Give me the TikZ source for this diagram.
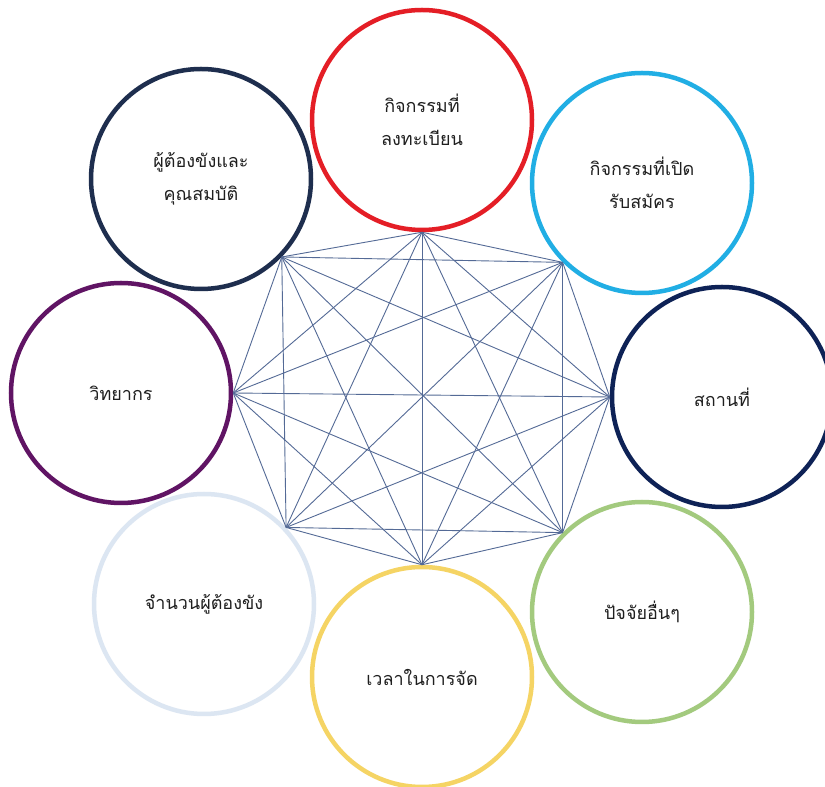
\documentclass[tikz,border=0pt]{standalone}
\usepackage{fontspec}
\newfontfamily\thaifont[Script=Thai]{Loma}
\definecolor{cRed}{RGB}{228,30,38}
\definecolor{cNavyA}{RGB}{30,46,78}
\definecolor{cSky}{RGB}{33,174,228}
\definecolor{cPurple}{RGB}{96,20,100}
\definecolor{cNavyB}{RGB}{14,34,86}
\definecolor{cPale}{RGB}{220,230,242}
\definecolor{cYellow}{RGB}{245,212,100}
\definecolor{cGreen}{RGB}{163,202,126}
\definecolor{linkc}{RGB}{84,106,150}
\begin{document}
\begin{tikzpicture}[x=1pt,y=1pt,
  ring/.style={circle,draw,line width=4.5pt,minimum size=220pt,inner sep=0pt,
    align=center,font=\thaifont\fontsize{18}{33}\selectfont,text=black!88},
  link/.style={draw=linkc,line width=0.9pt}]
\useasboundingbox (0,0) rectangle (825,787);
\fill[white] (0,0) rectangle (825,787);
\node[ring,draw=cRed]    (top)    at (422,667) {กิจกรรมที่\\ลงทะเบียน};
\node[ring,draw=cSky]    (tr)     at (642,604) {กิจกรรมที่เปิด\\รับสมัคร};
\node[ring,draw=cNavyB]  (right)  at (722,390) {สถานที่};
\node[ring,draw=cGreen]  (br)     at (642,175) {ปัจจัยอื่นๆ};
\node[ring,draw=cYellow] (bottom) at (422,110) {เวลาในการจัด};
\node[ring,draw=cPale]   (bl)     at (204,183) {จำนวนผู้ต้องขัง};
\node[ring,draw=cPurple] (left)   at (121,394) {วิทยากร};
\node[ring,draw=cNavyA]  (tl)     at (201,608) {ผู้ต้องขังและ\\คุณสมบัติ};
\coordinate (v1) at (top.-90);
\coordinate (v2) at (tr.-135.8);
\coordinate (v3) at (right.180);
\coordinate (v4) at (br.135.7);
\coordinate (v5) at (bottom.90);
\coordinate (v6) at (bl.43.5);
\coordinate (v7) at (left.0);
\coordinate (v8) at (tl.-44.6);
\foreach \i in {1,...,7}{
  \pgfmathtruncatemacro\k{\i+1}
  \foreach \j in {\k,...,8}{
    \draw[link] (v\i) -- (v\j);
  }
}
\end{tikzpicture}
\end{document}
